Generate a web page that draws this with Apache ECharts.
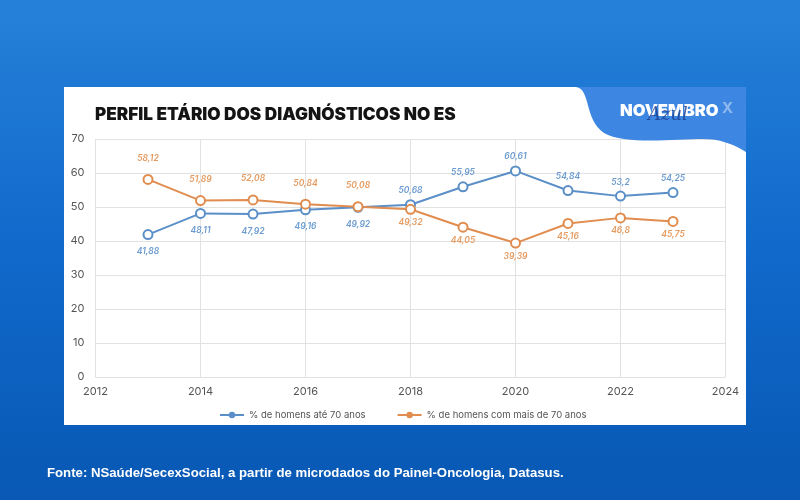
<!DOCTYPE html>
<html>
<head>
<meta charset="utf-8">
<script src="https://cdn.jsdelivr.net/npm/echarts@6/dist/echarts.min.js"></script>
<style>
html,body{margin:0;padding:0;}
#chart{width:800px;height:500px;}
</style>
</head>
<body>
<div id="chart"></div>
<script>
const years = [2013, 2014, 2015, 2016, 2017, 2018, 2019, 2020, 2021, 2022, 2023];
const ate70 = [41.88, 48.11, 47.92, 49.16, 49.92, 50.68, 55.95, 60.61, 54.84, 53.2, 54.25];
const mais70 = [58.12, 51.89, 52.08, 50.84, 50.08, 49.32, 44.05, 39.39, 45.16, 46.8, 45.75];
const seriesNames = ['% de homens até 70 anos', '% de homens com mais de 70 anos'];
const xTicks = [2012, 2014, 2016, 2018, 2020, 2022, 2024];
const yTicks = [0, 10, 20, 30, 40, 50, 60, 70];

const BLUE = '#5b8fc7';
const ORANGE = '#e08d4f';
const BLUE_LBL = '#6b9bd0';
const ORANGE_LBL = '#e59a5f';

function fmt(v){ return String(v).replace('.', ','); }

function buildData(vals, other, color, upDist, downDist){
  return vals.map((v, i) => {
    const above = v >= other[i];
    return {
      value: [years[i], v],
      label: {
        position: above ? 'top' : 'bottom',
        distance: above ? upDist : downDist,
        color: color
      }
    };
  });
}

// decorative wave (logo banner) as polygon built from cubic bezier segments
function bez(p0, p1, p2, p3, n){
  const out = [];
  for (let i = 0; i <= n; i++){
    const t = i / n, u = 1 - t;
    out.push([
      u*u*u*p0[0] + 3*u*u*t*p1[0] + 3*u*t*t*p2[0] + t*t*t*p3[0],
      u*u*u*p0[1] + 3*u*u*t*p1[1] + 3*u*t*t*p2[1] + t*t*t*p3[1]
    ]);
  }
  return out;
}
const wavePts = [].concat(
  bez([576,87],[591,89],[584,120],[604,133],16),
  bez([604,133],[624,145],[675,139],[703,139],16),
  bez([703,139],[724,139],[738,147],[746,152],10),
  [[746,87]]
);

const chart = echarts.init(document.getElementById('chart'), null, {renderer: 'canvas'});

const labelBase = {
  show: true,
  fontSize: 8.5,
  fontStyle: 'italic',
  fontWeight: 600,
  fontFamily: 'Inter, sans-serif',
  formatter: p => fmt(p.value[1])
};

const option = {
  animation: false,
  backgroundColor: {
    type: 'linear', x: 0, y: 0, x2: 0, y2: 1,
    colorStops: [
      {offset: 0, color: '#2581d9'},
      {offset: 0.5, color: '#1169cb'},
      {offset: 1, color: '#0858b4'}
    ]
  },
  graphic: [
    {type: 'rect', z: -10, shape: {x: 64, y: 87, width: 682, height: 338}, style: {fill: '#ffffff'}},
    {type: 'polygon', z: 50, shape: {points: wavePts}, style: {fill: '#3d87e2'}},
    {type: 'text', z: 51, x: 620, y: 103,
      style: {text: 'NOVEMBRO', fill: '#ffffff', font: '900 16.5px Inter, sans-serif'}},
    {type: 'text', z: 51, x: 722, y: 101,
      style: {text: 'X', fill: '#8fb8ee', font: '700 15px Inter, sans-serif'}},
    {type: 'text', z: 52, x: 648, y: 106,
      style: {text: 'Azul', fill: '#1b3f8f', font: 'italic 400 18px "DejaVu Serif", serif', opacity: 0.8}},
    {type: 'text', z: 51, x: 95, y: 106,
      style: {text: 'PERFIL ETÁRIO DOS DIAGNÓSTICOS NO ES', fill: '#141414', font: '900 17.2px Inter, sans-serif'}},
    {type: 'text', z: 51, x: 47, y: 467,
      style: {text: 'Fonte: NSaúde/SecexSocial, a partir de microdados do Painel-Oncologia, Datasus.', fill: '#ffffff', font: 'bold 13.2px "Liberation Sans", Arial, sans-serif'}}
  ],
  grid: {left: 95.5, right: 74.5, top: 139, bottom: 123, containLabel: false},
  legend: {
    data: [
      {name: seriesNames[0], itemStyle: {color: BLUE, borderWidth: 0}, lineStyle: {color: BLUE, width: 2}},
      {name: seriesNames[1], itemStyle: {color: ORANGE, borderWidth: 0}, lineStyle: {color: ORANGE, width: 2}}
    ],
    left: 214, top: 405,
    itemWidth: 24, itemHeight: 8, itemGap: 31,
    textStyle: {color: '#555', fontSize: 9.5, fontFamily: 'Inter, sans-serif'}
  },
  xAxis: {
    type: 'value', min: xTicks[0], max: xTicks[xTicks.length - 1], interval: 2,
    axisLine: {show: false}, axisTick: {show: false},
    splitLine: {show: true, lineStyle: {color: '#e2e2e2', width: 1}},
    axisLabel: {color: '#555', fontSize: 11, margin: 9, fontFamily: 'Inter, sans-serif', formatter: v => String(v)}
  },
  yAxis: {
    type: 'value', min: yTicks[0], max: yTicks[yTicks.length - 1], interval: 10,
    axisLine: {show: false}, axisTick: {show: false},
    splitLine: {show: true, lineStyle: {color: '#e2e2e2', width: 1}},
    axisLabel: {color: '#555', fontSize: 11, margin: 11, fontFamily: 'Inter, sans-serif'}
  },
  series: [
    {
      name: seriesNames[0], type: 'line',
      data: buildData(ate70, mais70, BLUE_LBL, 4, 7),
      symbol: 'circle', symbolSize: 9,
      lineStyle: {color: BLUE, width: 2},
      itemStyle: {color: '#ffffff', borderColor: BLUE, borderWidth: 2},
      label: labelBase
    },
    {
      name: seriesNames[1], type: 'line',
      data: buildData(mais70, ate70, ORANGE_LBL, 11, 3),
      symbol: 'circle', symbolSize: 9,
      lineStyle: {color: ORANGE, width: 2},
      itemStyle: {color: '#ffffff', borderColor: ORANGE, borderWidth: 2},
      label: labelBase
    }
  ]
};

chart.setOption(option);
</script>
</body>
</html>
